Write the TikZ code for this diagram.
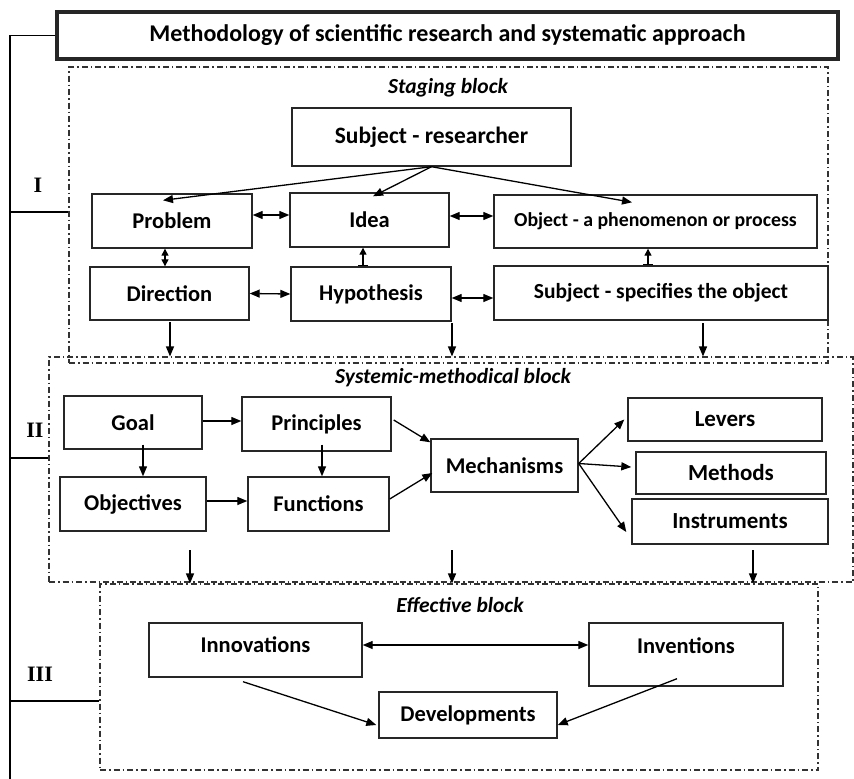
\documentclass[tikz,border=0pt]{standalone}
\usepackage{fontspec}
\setmainfont{Carlito}
\newfontfamily\romanfont{Liberation Serif}
\usetikzlibrary{
    arrows.meta,
    positioning
}

\begin{document}
\begin{tikzpicture}[
    x=1pt, y=-1pt,
    font=\bfseries\fontsize{22.5}{26}\selectfont,
    box/.style={
        rectangle,
        draw=black!85,
        line width=1.4pt,
        align=center,
        inner sep=0pt
    },
    size/.style 2 args={minimum width=#1pt, minimum height=#2pt},
    block/.style={
        rectangle,
        draw=black!80,
        line width=1.1pt,
        dash pattern=on 6pt off 3pt on 1.5pt off 3pt,
        inner sep=0pt
    },
    blocklbl/.style={font=\bfseries\itshape\fontsize{21.5}{24}\selectfont},
    numeral/.style={font=\romanfont\bfseries\fontsize{22}{24}\selectfont},
    arrow/.style={-{Triangle[length=10pt,width=8pt]}, line width=1.3pt},
    dblarrow/.style={{Triangle[length=10pt,width=8pt]}-{Triangle[length=10pt,width=8pt]}, line width=1.3pt},
    shortdbl/.style={{Triangle[length=7pt,width=7pt]}-{Triangle[length=7pt,width=7pt]}, line width=1.3pt},
    bararrow/.style={{Bar[width=10pt]}-{Triangle[length=7pt,width=7pt]}, line width=1.3pt},
    rail/.style={line width=1.2pt}
]
\useasboundingbox (0,0) rectangle (854,779);

% ===== title and the three blocks =====
\node[box, size={781}{47}, line width=3.5pt, font=\bfseries\fontsize{24}{28}\selectfont] (title) at (447.5,35.5)
    {Methodology of scientific research and systematic approach};
\node[block, size={759}{296}] (staging) at (448.5,215) {};
\node[block, size={804}{225}] (systemic) at (451,469.5) {};
\node[block, size={718}{186}] (effective) at (459,677) {};

\node[blocklbl] (staginglbl) at (448,88) {Staging block};
\node[blocklbl] (systemiclbl) at (453,378) {Systemic-methodical block};
\node[blocklbl] (effectivelbl) at (460,605) {Effective block};

% left rail with the stage numbers
\coordinate (railbot) at (10,779);
\coordinate (r1) at (10,212);
\coordinate (r2) at (10,458);
\coordinate (r3) at (10,701);
\draw[rail] (title.west) -| (railbot);
\draw[rail] (r1) -- (r1 -| staging.west);
\draw[rail] (r2) -- (r2 -| systemic.west);
\draw[rail] (r3) -- (r3 -| effective.west);
\node[numeral] (num1) at (38,185) {I};
\node[numeral] (num2) at (35,430) {II};
\node[numeral] (num3) at (40,674) {III};

% ===== BLOCK I: staging =====
\node[box, size={279}{58}, font=\bfseries\fontsize{23.5}{27}\selectfont] (researcher) at (431.5,137) {Subject - researcher};
\node[box, size={160}{54}] (problem) at (172,221) {Problem};
\node[box, size={159}{54}] (idea) at (369.5,220) {Idea};
\node[box, size={323}{53}, font=\bfseries\fontsize{19.8}{23}\selectfont] (object) at (655.5,221.5) {Object - a phenomenon or process};
\node[box, size={159}{53}] (direction) at (169.5,293.5) {Direction};
\node[box, size={160}{54}] (hypothesis) at (371,294) {Hypothesis};
\node[box, size={334}{54}, font=\bfseries\fontsize{21.5}{25}\selectfont] (subjspec) at (661,293) {Subject - specifies the object};

\draw[arrow] (researcher.south) -- ([xshift=-9pt,yshift=-7pt]problem.north);
\draw[arrow] (researcher.south) -- ([xshift=3.5pt,yshift=-4pt]idea.north);
\draw[arrow] (researcher.south) -- ([xshift=-23.5pt,yshift=-8pt]object.north);

\draw[dblarrow] ([yshift=6pt]problem.east) -- ([yshift=5pt]idea.west);
\draw[dblarrow] ([yshift=4pt]idea.east) -- ([yshift=5.5pt]object.west);
\draw[dblarrow] (direction.east) -- (hypothesis.west);
\draw[dblarrow] ([yshift=-4pt]hypothesis.east) -- ([yshift=-5pt]subjspec.west);
\draw[shortdbl] ([xshift=-7pt]problem.south) -- ([xshift=-4.5pt]direction.north);
\draw[bararrow] ([xshift=-8pt]hypothesis.north) -- ([xshift=-6.5pt]idea.south);
\draw[bararrow] ([xshift=-13pt]subjspec.north) -- ([xshift=-7.5pt]object.south);

\coordinate (s1) at (170,322);
\coordinate (s2) at (452,323);
\coordinate (s3) at (703,323);
\foreach \t in {s1,s2,s3}
    \draw[arrow] (\t) -- (\t |- systemic.north);

% ===== BLOCK II: systemic-methodical =====
\node[box, size={138}{53}] (goal) at (133,422.5) {Goal};
\node[box, size={149}{54}] (principles) at (316.5,424) {Principles};
\node[box, size={146}{54}] (objectives) at (133,504) {Objectives};
\node[box, size={141}{54}] (functions) at (318.5,504) {Functions};
\node[box, size={147}{53}] (mechanisms) at (504.5,465.5) {Mechanisms};
\node[box, size={194}{43}, font=\bfseries\fontsize{23}{26}\selectfont] (levers) at (725,419.5) {Levers};
\node[box, size={190}{42}, font=\bfseries\fontsize{23}{26}\selectfont] (methods) at (731,473) {Methods};
\node[box, size={196}{45}, font=\bfseries\fontsize{23}{26}\selectfont] (instruments) at (730,521.5) {Instruments};

\draw[arrow] ([yshift=1.5pt]goal.east) -- ([yshift=3pt]principles.west);
\draw[arrow] ([yshift=3pt]objectives.east) -- ([yshift=3pt]functions.west);
\draw[arrow] ([xshift=10pt,yshift=5pt]goal.south) -- ([xshift=10pt]objectives.north);
\draw[arrow] ([xshift=5.5pt,yshift=7pt]principles.south) -- ([xshift=3.5pt]functions.north);
\draw[arrow] ([xshift=2pt,yshift=4pt]principles.east) -- ([yshift=-4pt]mechanisms.north west);
\draw[arrow] ([yshift=5pt]functions.east) -- ([xshift=2pt,yshift=-7.5pt]mechanisms.west);

\coordinate (fan) at ([yshift=2pt]mechanisms.east);
\draw[arrow] (fan) -- ([xshift=-3pt]levers.west);
\draw[arrow] (fan) -- ([xshift=-4pt,yshift=6pt]methods.west);
\draw[arrow] (fan) -- ([xshift=-5pt,yshift=-10.5pt]instruments.west);

\coordinate (m1) at (190,550);
\coordinate (m2) at (452,550);
\coordinate (m3) at (753,550);
\foreach \t in {m1,m2,m3}
    \draw[arrow] (\t) -- (\t |- effective.north);

% ===== BLOCK III: effective =====
\node[box, size={213}{54}, text depth=10pt] (innovations) at (255.5,650) {Innovations};
\node[box, size={194}{63}, text depth=17pt] (inventions) at (686,654.5) {Inventions};
\node[box, size={178}{46}] (developments) at (468,715) {Developments};

\draw[dblarrow] ([yshift=5pt]innovations.east) -- ([yshift=9.5pt]inventions.west);
\draw[arrow] ([xshift=-12.5pt,yshift=-4pt]innovations.south) -- ([xshift=-2pt,yshift=-10pt]developments.west);
\draw[arrow] ([xshift=-9pt,yshift=8pt]inventions.south) -- ([yshift=-10pt]developments.east);

\end{tikzpicture}
\end{document}
